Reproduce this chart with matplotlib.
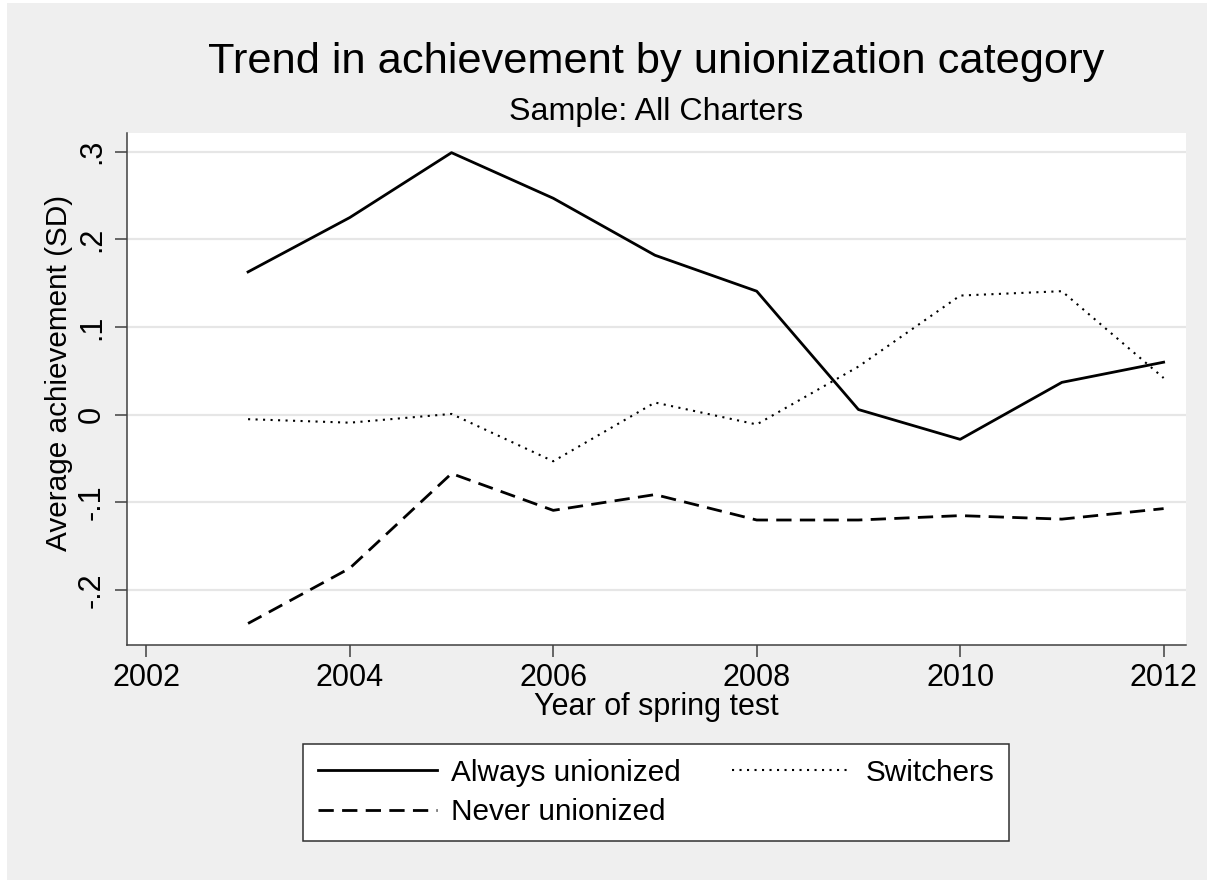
import numpy as np
import matplotlib
matplotlib.use("Agg")
import matplotlib.pyplot as plt
from matplotlib.patches import Rectangle

# -- Data
years = [2003, 2004, 2005, 2006, 2007, 2008, 2009, 2010, 2011, 2012]
always_unionized = [0.163, 0.225, 0.299, 0.247, 0.182, 0.141, 0.006, -0.028, 0.037, 0.060]
never_unionized = [-0.238, -0.175, -0.067, -0.109, -0.091, -0.120, -0.120, -0.115, -0.119, -0.107]
switchers = [-0.005, -0.009, 0.001, -0.053, 0.014, -0.011, 0.055, 0.136, 0.141, 0.042]

xticks = [2002, 2004, 2006, 2008, 2010, 2012]
yticks = [-0.2, -0.1, 0.0, 0.1, 0.2, 0.3]
ytick_labels = ["-.2", "-.1", "0", ".1", ".2", ".3"]

plt.rcParams['font.family'] = ['Liberation Sans', 'DejaVu Sans']

bg = '#efefef'
fig = plt.figure(figsize=(12.07, 8.80), dpi=100, facecolor='white')
# grey graph region (small white strip at top/left like the screenshot)
fig.patches.append(Rectangle((7 / 1207, 0), 1, 1 - 3 / 880, transform=fig.transFigure,
                             facecolor=bg, edgecolor='none', zorder=-1))

ax = fig.add_axes([127 / 1207, 1 - 644.5 / 880, 1059 / 1207, 512 / 880])
ax.set_facecolor('white')

ax.plot(years, always_unionized, color='black', lw=2.0, label='Always unionized')
ax.plot(years, never_unionized, color='black', lw=2.0, dashes=(5.5, 3), label='Never unionized')
ax.plot(years, switchers, color='black', lw=1.5, linestyle=(0, (1, 2.6)), label='Switchers')

ax.set_xlim(2001.81, 2012.22)
ax.set_ylim(-0.262, 0.322)

ax.set_xticks(xticks)
ax.set_yticks(yticks)
ax.set_yticklabels(ytick_labels, rotation=90, va='center')
ax.tick_params(axis='both', labelsize=22, length=8.5, width=1.1, color='#404040', direction='out')
ax.tick_params(axis='x', pad=5)
ax.tick_params(axis='y', pad=6)

ax.grid(axis='y', color='#e6e6e6', lw=1.6)
ax.set_axisbelow(True)
for side in ['top', 'right']:
    ax.spines[side].set_visible(False)
for side in ['left', 'bottom']:
    ax.spines[side].set_color('#404040')
    ax.spines[side].set_linewidth(1.1)

ax.set_xlabel('Year of spring test', fontsize=22)
ax.xaxis.set_label_coords(0.5, -0.092)
ax.xaxis.label.set_va('top')
ax.set_ylabel('Average achievement (SD)', fontsize=21.4)
ax.yaxis.set_label_coords(-0.051, 0.53)

# -- Titles
fig.text(656 / 1207, 1 - 72.7 / 880, 'Trend in achievement by unionization category',
         fontsize=31.2, ha='center', va='baseline')
fig.text(656 / 1207, 1 - 120 / 880, 'Sample: All Charters',
         fontsize=23.2, ha='center', va='baseline')

# -- Legend below the plot
leg = fig.legend(*ax.get_legend_handles_labels(), ncol=2, loc='center',
                 bbox_to_anchor=(656 / 1207, 1 - 792.5 / 880), fontsize=21.4,
                 handlelength=4, handletextpad=0.5, columnspacing=1.7,
                 frameon=True, fancybox=False, edgecolor='#303030',
                 facecolor='white', framealpha=1, borderpad=0.5, labelspacing=0.4)
leg.get_frame().set_linewidth(1.1)

plt.savefig('out.png', dpi=100, facecolor=fig.get_facecolor())
